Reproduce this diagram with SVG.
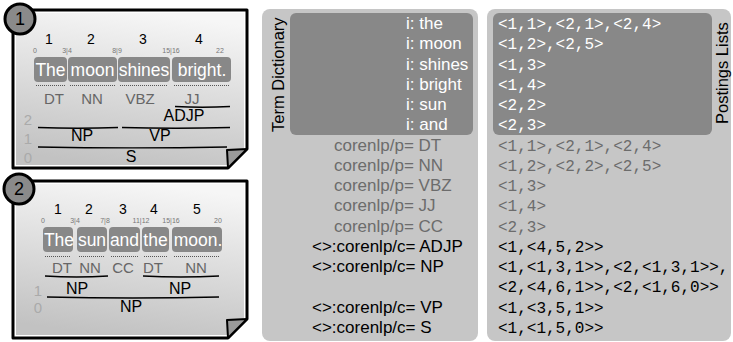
<svg xmlns="http://www.w3.org/2000/svg" width="733" height="342" viewBox="0 0 733 342">
<defs>
<linearGradient id="paper" x1="0.6" y1="0" x2="0.4" y2="1">
<stop offset="0" stop-color="#f6f6f6"/>
<stop offset="1" stop-color="#c2c2c2"/>
</linearGradient>
</defs>
<style>
text{font-family:"Liberation Sans",Arial,sans-serif}
.outline{fill:#fff;stroke:#000;stroke-width:3;stroke-linejoin:round}
.inner{fill:url(#paper)}
.flap{fill:#9a9a9a;stroke:#000;stroke-width:2;stroke-linejoin:round}
.badge{fill:#8a8a8a;stroke:#000;stroke-width:3}
.badgetxt{font-size:18px;fill:#000;text-anchor:middle}
.tok{fill:#888}
.tokt{font-size:17.5px;fill:#fff;text-anchor:middle}
.num{font-size:14px;fill:#000;text-anchor:middle}
.off{font-size:7px;fill:#777;text-anchor:middle}
.dots{stroke:#555;stroke-width:1;stroke-dasharray:1 1;fill:none}
.pos{font-size:15px;fill:#666;text-anchor:middle}
.lvl{font-size:15px;fill:#aaa;text-anchor:middle}
.phr{font-size:16px;fill:#000;text-anchor:middle}
.br{stroke:#000;stroke-width:1.3;fill:none}
.panel{fill:#c6c6c6}
.dark{fill:#888}
.title{font-size:16.5px;fill:#000}
.term{font-size:17px}
.w{fill:#fff}
.g{fill:#6c6c6c}
.b{fill:#000}
.mono{font-family:"Liberation Mono","Courier New",monospace;font-size:16px}
</style>
<rect width="733" height="342" fill="#fff"/>

<g id="card1">
<path class="outline" d="M13,10 H247 V149 L228,168 H13 Z"/>
<path class="inner" d="M16,13 H244 V148 L227,165 H16 Z"/>
<path class="flap" d="M227,150 L247,149 L228,168 Z"/>
<circle class="badge" cx="20" cy="19" r="15"/>
<text class="badgetxt" x="20" y="25">1</text>
<text class="num" x="49" y="44">1</text>
<text class="num" x="91" y="44">2</text>
<text class="num" x="143" y="44">3</text>
<text class="num" x="199" y="44">4</text>
<text class="off" x="35" y="53">0</text>
<text class="off" x="67" y="53">3|4</text>
<text class="off" x="117" y="53">8|9</text>
<text class="off" x="171" y="53">15|16</text>
<text class="off" x="220" y="53">22</text>
<rect class="tok" x="34" y="57" width="33" height="25" rx="4"/>
<rect class="tok" x="68" y="57" width="49" height="25" rx="4"/>
<rect class="tok" x="118" y="57" width="52" height="25" rx="4"/>
<rect class="tok" x="172" y="57" width="59" height="25" rx="4"/>
<text class="tokt" x="50.5" y="76">The</text>
<text class="tokt" x="92.5" y="76">moon</text>
<text class="tokt" x="144" y="76">shines</text>
<text class="tokt" x="202" y="76">bright.</text>
<path class="dots" d="M36,85.5 H66 M70,85.5 H116 M120,85.5 H168 M174,85.5 H229"/>
<text class="pos" x="54" y="104">DT</text>
<text class="pos" x="92" y="104">NN</text>
<text class="pos" x="140" y="104">VBZ</text>
<text class="pos" x="192" y="104">JJ</text>
<text class="lvl" x="28" y="125">2</text>
<text class="lvl" x="28" y="144">1</text>
<text class="lvl" x="28" y="163">0</text>
<text class="phr" x="184" y="121">ADJP</text>
<text class="phr" x="82" y="141">NP</text>
<text class="phr" x="160" y="141">VP</text>
<text class="phr" x="131" y="162">S</text>
</g>

<g id="card2">
<path class="outline" d="M13,181 H247 V319 L228,338 H13 Z"/>
<path class="inner" d="M16,184 H244 V318 L227,335 H16 Z"/>
<path class="flap" d="M227,320 L247,319 L228,338 Z"/>
<circle class="badge" cx="19" cy="189" r="15"/>
<text class="badgetxt" x="19" y="195">2</text>
<text class="num" x="58" y="214">1</text>
<text class="num" x="89" y="214">2</text>
<text class="num" x="123" y="214">3</text>
<text class="num" x="154" y="214">4</text>
<text class="num" x="197" y="214">5</text>
<text class="off" x="43" y="223">0</text>
<text class="off" x="75" y="223">3|4</text>
<text class="off" x="105" y="223">7|8</text>
<text class="off" x="141" y="223">11|12</text>
<text class="off" x="171" y="223">15|16</text>
<text class="off" x="218" y="223">20</text>
<rect class="tok" x="43" y="227" width="30" height="25" rx="4"/>
<rect class="tok" x="77" y="227" width="30" height="25" rx="4"/>
<rect class="tok" x="109" y="227" width="31" height="25" rx="4"/>
<rect class="tok" x="142" y="227" width="27" height="25" rx="4"/>
<rect class="tok" x="172" y="227" width="50" height="25" rx="4"/>
<text class="tokt" x="59" y="246">The</text>
<text class="tokt" x="92" y="246">sun</text>
<text class="tokt" x="124.5" y="246">and</text>
<text class="tokt" x="155.5" y="246">the</text>
<text class="tokt" x="198" y="246">moon.</text>
<path class="dots" d="M45,256.5 H71 M79,256.5 H105 M111,256.5 H138 M144,256.5 H167 M174,256.5 H220"/>
<text class="pos" x="62" y="273">DT</text>
<text class="pos" x="90" y="273">NN</text>
<text class="pos" x="123" y="273">CC</text>
<text class="pos" x="153" y="273">DT</text>
<text class="pos" x="196" y="273">NN</text>
<text class="lvl" x="38" y="296">1</text>
<text class="lvl" x="38" y="313">0</text>
<text class="phr" x="77" y="294">NP</text>
<text class="phr" x="180" y="294">NP</text>
<text class="phr" x="131" y="312">NP</text>
</g>

<g id="brackets">
<path class="br" d="M175,106.5 Q202.5,108 230,106.5"/>
<path class="br" d="M38,127.5 Q78,129 118,127.5"/>
<path class="br" d="M122,127.5 Q176,129 230,127.5"/>
<path class="br" d="M38,147 Q132,148.8 227,147"/>
<path class="br" d="M45,276 Q76.5,278 108,276"/>
<path class="br" d="M143,276 Q181,278 219,276"/>
<path class="br" d="M47,297 Q133,299 219,297"/>
</g>

<g id="term-dictionary">
<rect class="panel" x="262" y="9" width="216" height="332" rx="8"/>
<rect class="dark" x="290" y="13" width="183" height="122" rx="6"/>
<text class="title" transform="translate(284,132) rotate(-90)">Term Dictionary</text>
<text class="term w" x="406" y="29">i: the</text>
<text class="term w" x="406" y="49.3">i: moon</text>
<text class="term w" x="406" y="69.5">i: shines</text>
<text class="term w" x="406" y="89.8">i: bright</text>
<text class="term w" x="406" y="110">i: sun</text>
<text class="term w" x="406" y="130.3">i: and</text>
<text class="term g" x="334" y="150.5">corenlp/p= DT</text>
<text class="term g" x="334" y="170.8">corenlp/p= NN</text>
<text class="term g" x="334" y="191">corenlp/p= VBZ</text>
<text class="term g" x="334" y="211.3">corenlp/p= JJ</text>
<text class="term g" x="334" y="231.5">corenlp/p= CC</text>
<text class="term b" x="312" y="251.8">&lt;&gt;:corenlp/c= ADJP</text>
<text class="term b" x="312" y="272">&lt;&gt;:corenlp/c= NP</text>
<text class="term b" x="312" y="312.5">&lt;&gt;:corenlp/c= VP</text>
<text class="term b" x="312" y="332.8">&lt;&gt;:corenlp/c= S</text>
</g>

<g id="postings-lists">
<rect class="panel" x="487" y="9" width="244" height="332" rx="8"/>
<rect class="dark" x="493" y="13" width="219" height="122" rx="6"/>
<text class="title" transform="translate(728,124) rotate(-90)">Postings Lists</text>
<text class="mono w" x="498" y="29">&lt;1,1&gt;,&lt;2,1&gt;,&lt;2,4&gt;</text>
<text class="mono w" x="498" y="49.3">&lt;1,2&gt;,&lt;2,5&gt;</text>
<text class="mono w" x="498" y="69.5">&lt;1,3&gt;</text>
<text class="mono w" x="498" y="89.8">&lt;1,4&gt;</text>
<text class="mono w" x="498" y="110">&lt;2,2&gt;</text>
<text class="mono w" x="498" y="130.3">&lt;2,3&gt;</text>
<text class="mono g" x="498" y="150.5">&lt;1,1&gt;,&lt;2,1&gt;,&lt;2,4&gt;</text>
<text class="mono g" x="498" y="170.8">&lt;1,2&gt;,&lt;2,2&gt;,&lt;2,5&gt;</text>
<text class="mono g" x="498" y="191">&lt;1,3&gt;</text>
<text class="mono g" x="498" y="211.3">&lt;1,4&gt;</text>
<text class="mono g" x="498" y="231.5">&lt;2,3&gt;</text>
<text class="mono b" x="498" y="251.8">&lt;1,&lt;4,5,2&gt;&gt;</text>
<text class="mono b" x="498" y="272">&lt;1,&lt;1,3,1&gt;&gt;,&lt;2,&lt;1,3,1&gt;&gt;,</text>
<text class="mono b" x="498" y="292.3">&lt;2,&lt;4,6,1&gt;&gt;,&lt;2,&lt;1,6,0&gt;&gt;</text>
<text class="mono b" x="498" y="312.5">&lt;1,&lt;3,5,1&gt;&gt;</text>
<text class="mono b" x="498" y="332.8">&lt;1,&lt;1,5,0&gt;&gt;</text>
</g>
</svg>
